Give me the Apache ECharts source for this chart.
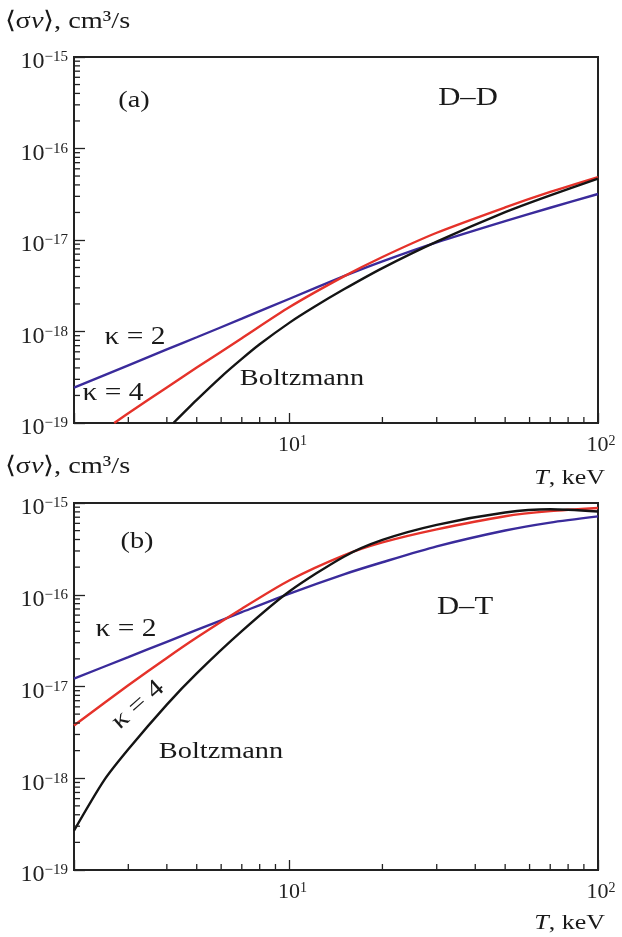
<!DOCTYPE html>
<html>
<head>
<meta charset="utf-8">
<script src="https://cdn.jsdelivr.net/npm/echarts@6/dist/echarts.min.js"></script>
<style>
html, body { margin: 0; padding: 0; background: #fff; }
#chart { width: 622px; height: 937px; }
</style>
</head>
<body>
<div id="chart"></div>
<script>
// (a) D-D : temperature (keV) and <sigma v> (cm^3/s)
const ddT_k2 = [2, 3, 4, 5, 7, 10, 15, 20, 30, 50, 70, 100];
const ddKappa2 = [2.43e-19, 4.27e-19, 6.37e-19, 8.65e-19, 1.38e-18, 2.28e-18, 4.02e-18, 5.84e-18, 9.42e-18, 1.61e-17, 2.25e-17, 3.18e-17];
const ddT_k4 = [2.7, 3, 4, 5, 7, 10, 15, 20, 30, 50, 70, 100];
const ddKappa4 = [1.0e-19, 1.28e-19, 2.45e-19, 4.03e-19, 8.45e-19, 1.85e-18, 4.0e-18, 6.52e-18, 1.2e-17, 2.27e-17, 3.35e-17, 4.87e-17];
const ddT_b = [4.2, 5, 6, 7, 8, 10, 12, 15, 20, 30, 50, 70, 100];
const ddBoltz = [1.0e-19, 1.79e-19, 3.2e-19, 5.02e-19, 7.25e-19, 1.25e-18, 1.85e-18, 2.89e-18, 4.93e-18, 9.6e-18, 2.02e-17, 3.08e-17, 4.68e-17];

// (b) D-T
const dtT_k2 = [2, 3, 4, 5, 7, 10, 15, 20, 30, 50, 70, 100];
const dtKappa2 = [1.22e-17, 2.09e-17, 3.07e-17, 4.13e-17, 6.46e-17, 1.03e-16, 1.67e-16, 2.26e-16, 3.37e-16, 5.02e-16, 6.12e-16, 7.14e-16];
const dtT = [2, 2.5, 3, 4, 5, 7, 10, 15, 20, 30, 50, 70, 100];
const dtKappa4 = [3.76e-18, 6.57e-18, 1.03e-17, 2.05e-17, 3.42e-17, 7.05e-17, 1.44e-16, 2.69e-16, 3.72e-16, 5.16e-16, 7.18e-16, 8.15e-16, 8.81e-16];
const dtBoltz = [2.69e-19, 9.44e-19, 2.07e-18, 6.35e-18, 1.39e-17, 4.01e-17, 1.09e-16, 2.6e-16, 3.96e-16, 5.78e-16, 7.87e-16, 8.55e-16, 8.09e-16];

// axis ranges and minor ticks
const xMin = 2, xMax = 100;
const yMin = 1e-19, yMax = 1e-15;
const xMinorTicks = [3, 4, 5, 6, 7, 8, 9, 20, 30, 40, 50, 60, 70, 80, 90];
const yMinorMant = [2, 3, 4, 5, 6, 7, 8, 9];
const yDecades = [-19, -18, -17, -16];

const FONT = '"Liberation Serif", "Times New Roman", serif';
const BLUE = '#3a2b9b', RED = '#e5322a', BLACK = '#141414';
const STRETCH = 1.18;

const chart = echarts.init(document.getElementById('chart'));

const xRich = {
  b: { fontFamily: FONT, fontSize: 22, color: '#222', padding: [0, 0, 0, 6] },
  s: { fontFamily: FONT, fontSize: 14, color: '#222', verticalAlign: 'top', padding: [0, 0, 8, 0] }
};
const yRich = {
  b: { fontFamily: FONT, fontSize: 24, color: '#222' },
  s: { fontFamily: FONT, fontSize: 15, color: '#222', verticalAlign: 'top', padding: [0, 0, 9, 0] }
};

function pairs(xs, ys) {
  return xs.map((x, i) => [x, ys[i]]);
}

function line(name, data, color, idx) {
  return {
    name: name, type: 'line', xAxisIndex: idx, yAxisIndex: idx,
    data: data, showSymbol: false, smooth: 0.25,
    lineStyle: { color: color, width: 2.4 }, z: 3
  };
}

function minorX(idx) {
  return {
    type: 'custom', xAxisIndex: idx, yAxisIndex: idx, silent: true, z: 6,
    data: xMinorTicks.map(v => [v, yMin]),
    renderItem: function (params, api) {
      const p = api.coord([api.value(0), api.value(1)]);
      return { type: 'line', shape: { x1: p[0], y1: p[1], x2: p[0], y2: p[1] - 6 }, style: { stroke: '#222', lineWidth: 1.3 } };
    }
  };
}

function minorY(idx) {
  const vals = [];
  yDecades.forEach(d => yMinorMant.forEach(m => vals.push([xMin, m * Math.pow(10, d)])));
  return {
    type: 'custom', xAxisIndex: idx, yAxisIndex: idx, silent: true, z: 6,
    data: vals,
    renderItem: function (params, api) {
      const p = api.coord([api.value(0), api.value(1)]);
      return { type: 'line', shape: { x1: p[0], y1: p[1], x2: p[0] + 6, y2: p[1] }, style: { stroke: '#222', lineWidth: 1.3 } };
    }
  };
}

function xAxis(idx) {
  return {
    type: 'log', logBase: 10, gridIndex: idx, min: xMin, max: xMax,
    axisLine: { lineStyle: { color: '#222', width: 2 } },
    axisTick: { inside: true, length: 10, lineStyle: { color: '#222', width: 1.3 } },
    splitLine: { show: false },
    axisLabel: {
      margin: 11, rich: xRich,
      formatter: function (v) {
        const e = Math.log10(v);
        if (Math.abs(e - Math.round(e)) > 1e-6) return '';
        return '{b|10}{s|' + Math.round(e) + '}';
      }
    }
  };
}

function yAxis(idx) {
  return {
    type: 'log', logBase: 10, gridIndex: idx, min: yMin, max: yMax,
    axisLine: { lineStyle: { color: '#222', width: 2 } },
    axisTick: { inside: true, length: 11, lineStyle: { color: '#222', width: 1.3 } },
    splitLine: { show: false },
    axisLabel: {
      margin: 6, rich: yRich, padding: [10, 0, 0, 0],
      formatter: function (v) {
        const e = Math.round(Math.log10(v));
        return '{b|10}{s|\u2212' + (-e) + '}';
      }
    }
  };
}

function txt(text, x, y, size, opts) {
  return Object.assign({
    type: 'text', x: x, y: y, z: 10, scaleX: STRETCH,
    style: { text: text, fontFamily: FONT, fontSize: size, fill: '#1a1a1a', align: 'center', verticalAlign: 'middle' }
  }, opts || {});
}

function richTxt(text, x, y, align, size) {
  return {
    type: 'text', x: x, y: y, z: 10, scaleX: STRETCH,
    style: {
      text: text, fontFamily: FONT, fontSize: size, fill: '#1a1a1a', align: align, verticalAlign: 'middle',
      rich: {
        n: { fontFamily: FONT, fontSize: size, fill: '#1a1a1a' },
        i: { fontFamily: FONT, fontSize: size, fontStyle: 'italic', fill: '#1a1a1a' }
      }
    }
  };
}

const sigmaLabel = '{n|\u27E8\u03C3}{i|v}{n|\u27E9, cm\u00B3/s}';
const tLabel = '{i|T}{n|, keV}';

chart.setOption({
  animation: false,
  backgroundColor: '#fff',
  grid: [
    { left: 74, right: 24, top: 57, height: 366, show: true, borderColor: '#222', borderWidth: 2, backgroundColor: 'transparent' },
    { left: 74, right: 24, top: 503, height: 367, show: true, borderColor: '#222', borderWidth: 2, backgroundColor: 'transparent' }
  ],
  xAxis: [xAxis(0), xAxis(1)],
  yAxis: [yAxis(0), yAxis(1)],
  series: [
    line('\u03BA = 2', pairs(ddT_k2, ddKappa2), BLUE, 0),
    line('\u03BA = 4', pairs(ddT_k4, ddKappa4), RED, 0),
    line('Boltzmann', pairs(ddT_b, ddBoltz), BLACK, 0),
    line('\u03BA = 2', pairs(dtT_k2, dtKappa2), BLUE, 1),
    line('\u03BA = 4', pairs(dtT, dtKappa4), RED, 1),
    line('Boltzmann', pairs(dtT, dtBoltz), BLACK, 1),
    minorX(0), minorY(0), minorX(1), minorY(1)
  ],
  graphic: [
    richTxt(sigmaLabel, 5, 22, 'left', 24),
    txt('(a)', 134, 101, 24),
    txt('D\u2013D', 468, 98, 26),
    txt('\u03BA = 2', 135, 337, 25),
    txt('\u03BA = 4', 113, 393, 25),
    txt('Boltzmann', 302, 379, 24),
    richTxt(tLabel, 605, 478, 'right', 22),
    richTxt(sigmaLabel, 5, 467, 'left', 24),
    txt('(b)', 137, 542, 24),
    txt('D\u2013T', 465, 607, 26),
    txt('\u03BA = 2', 126, 629, 25),
    txt('\u03BA = 4', 138, 705, 25, { rotation: 0.72 }),
    txt('Boltzmann', 221, 752, 24),
    richTxt(tLabel, 605, 923, 'right', 22)
  ]
});
</script>
</body>
</html>
